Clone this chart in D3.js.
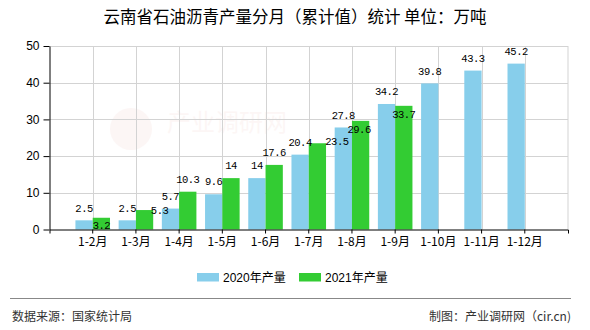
<!DOCTYPE html>
<html><head><meta charset="utf-8">
<script src="https://cdn.jsdelivr.net/npm/d3@7"></script>
<style>
html,body{margin:0;padding:0;background:#fff;}
svg{display:block;}
</style>
</head><body>
<svg id="chart" width="590" height="330"></svg>
<script>
const categories = ["1-2月","1-3月","1-4月","1-5月","1-6月","1-7月","1-8月","1-9月","1-10月","1-11月","1-12月"];
const values2020 = [2.5, 2.5, 5.7, 9.6, 14, 20.4, 27.8, 34.2, 39.8, 43.3, 45.2];
const values2021 = [3.2, 5.3, 10.3, 14, 17.6, 23.5, 29.6, 33.7];
const seriesNames = ["2020年产量", "2021年产量"];
const yTicks = [0, 10, 20, 30, 40, 50];
const titleText = "云南省石油沥青产量分月（累计值）统计  单位：万吨";
const sourceText = "数据来源：国家统计局";
const creditText = "制图：产业调研网（cir.cn)";
// label collision nudges (dx, dy) for 2021 labels, as in the reference
const nudge2021 = [[0,20],[15,12.5],[0,0],[0,0],[0,0],[19.5,11],[-1.5,20.6],[0,20.6]];

const colors = ["#87CEEB", "#33CC33"];
const svg = d3.select("#chart");
const L = 49.5, R = 568, T = 46, B = 229.5;

const x = d3.scaleBand().domain(categories).range([L, R]).paddingInner(0).paddingOuter(0.5);
const y = d3.scaleLinear().domain([0, 50]).range([B, T]);
const bw = x.step() * 0.4;
const cx = c => x(c) + x.bandwidth() / 2;

// faint watermark
const wm = svg.append("g").attr("opacity", 0.045);
wm.append("circle").attr("cx", 131).attr("cy", 129).attr("r", 21).attr("fill", "#d04030");
wm.append("text").attr("x", 167).attr("y", 131).attr("font-family", "Noto Sans CJK SC").attr("font-size", 24).attr("fill", "#d04030").text("产业调研网");

// grid
const grid = svg.append("g").attr("stroke", "#d3d3d3").attr("stroke-width", 1);
yTicks.filter(d => d > 0).forEach(t => {
  grid.append("line").attr("x1", L).attr("x2", R).attr("y1", Math.round(y(t)) + 0.5).attr("y2", Math.round(y(t)) + 0.5);
});
categories.forEach(c => {
  const px = Math.round(cx(c)) + 0.5;
  grid.append("line").attr("x1", px).attr("x2", px).attr("y1", T).attr("y2", B);
});
grid.append("line").attr("x1", R).attr("x2", R).attr("y1", T).attr("y2", B);

// bars
svg.append("g").selectAll("rect").data(values2020).join("rect")
  .attr("x", (d, i) => cx(categories[i]) - bw)
  .attr("y", d => y(d)).attr("width", bw).attr("height", d => B - y(d))
  .attr("fill", colors[0]);
svg.append("g").selectAll("rect").data(values2021).join("rect")
  .attr("x", (d, i) => cx(categories[i]))
  .attr("y", d => y(d)).attr("width", bw).attr("height", d => B - y(d))
  .attr("fill", colors[1]);

// axes
const yAxis = svg.append("g").attr("transform", `translate(${L},0)`)
  .call(d3.axisLeft(y).tickValues(yTicks).tickSize(6).tickSizeOuter(0).tickPadding(4));
const xAxis = svg.append("g").attr("transform", `translate(0,${B})`)
  .call(d3.axisBottom(x).tickSize(4).tickSizeOuter(4).tickPadding(3));
[yAxis, xAxis].forEach(a => {
  a.selectAll("path,line").attr("stroke", "#000").attr("stroke-width", 1);
  a.selectAll("text").attr("fill", "#000").attr("font-family", "Liberation Sans, Noto Sans CJK SC").attr("font-size", 12);
});
xAxis.selectAll("text").attr("font-family", "Noto Sans CJK SC").attr("dy", "0.75em");

// labels
const lblFont = "Liberation Mono";
svg.append("g").selectAll("text").data(values2020).join("text")
  .attr("x", (d, i) => cx(categories[i]) - bw / 2)
  .attr("y", d => y(d) - 12.5).attr("dy", "0.35em")
  .attr("text-anchor", "middle").attr("font-family", lblFont).attr("font-size", 10.5)
  .attr("letter-spacing", -0.5).attr("fill", "#000")
  .text(d => d);
svg.append("g").selectAll("text").data(values2021).join("text")
  .attr("x", (d, i) => cx(categories[i]) + bw / 2 + nudge2021[i][0])
  .attr("y", (d, i) => y(d) - 12.5 + nudge2021[i][1]).attr("dy", "0.35em")
  .attr("text-anchor", "middle").attr("font-family", lblFont).attr("font-size", 10.5)
  .attr("letter-spacing", -0.5).attr("fill", "#000")
  .text(d => d);

// title
svg.append("text").attr("x", 295).attr("y", 17).attr("dy", "0.35em").attr("text-anchor", "middle")
  .attr("font-family", "Noto Sans CJK SC").attr("font-size", 16.5).attr("fill", "#000").text(titleText);

// legend
const legX = [197, 299];
seriesNames.forEach((n, i) => {
  svg.append("rect").attr("x", legX[i]).attr("y", 273).attr("width", 22).attr("height", 8.5).attr("fill", colors[i]);
  svg.append("text").attr("x", legX[i] + 26).attr("y", 277.5).attr("dy", "0.35em")
    .attr("font-family", "Liberation Sans, Noto Sans CJK SC").attr("font-size", 12).attr("fill", "#000").text(n);
});

// footer
svg.append("line").attr("x1", 10).attr("x2", 571).attr("y1", 298.5).attr("y2", 298.5).attr("stroke", "#888").attr("stroke-width", 1);
svg.append("text").attr("x", 12).attr("y", 316.5).attr("dy", "0.35em").attr("font-family", "Noto Sans CJK SC")
  .attr("font-size", 12).attr("fill", "#333").text(sourceText);
svg.append("text").attr("x", 571).attr("y", 316.5).attr("dy", "0.35em").attr("text-anchor", "end").attr("font-family", "Noto Sans CJK SC")
  .attr("font-size", 12).attr("fill", "#333").text(creditText);
</script>
</body></html>
